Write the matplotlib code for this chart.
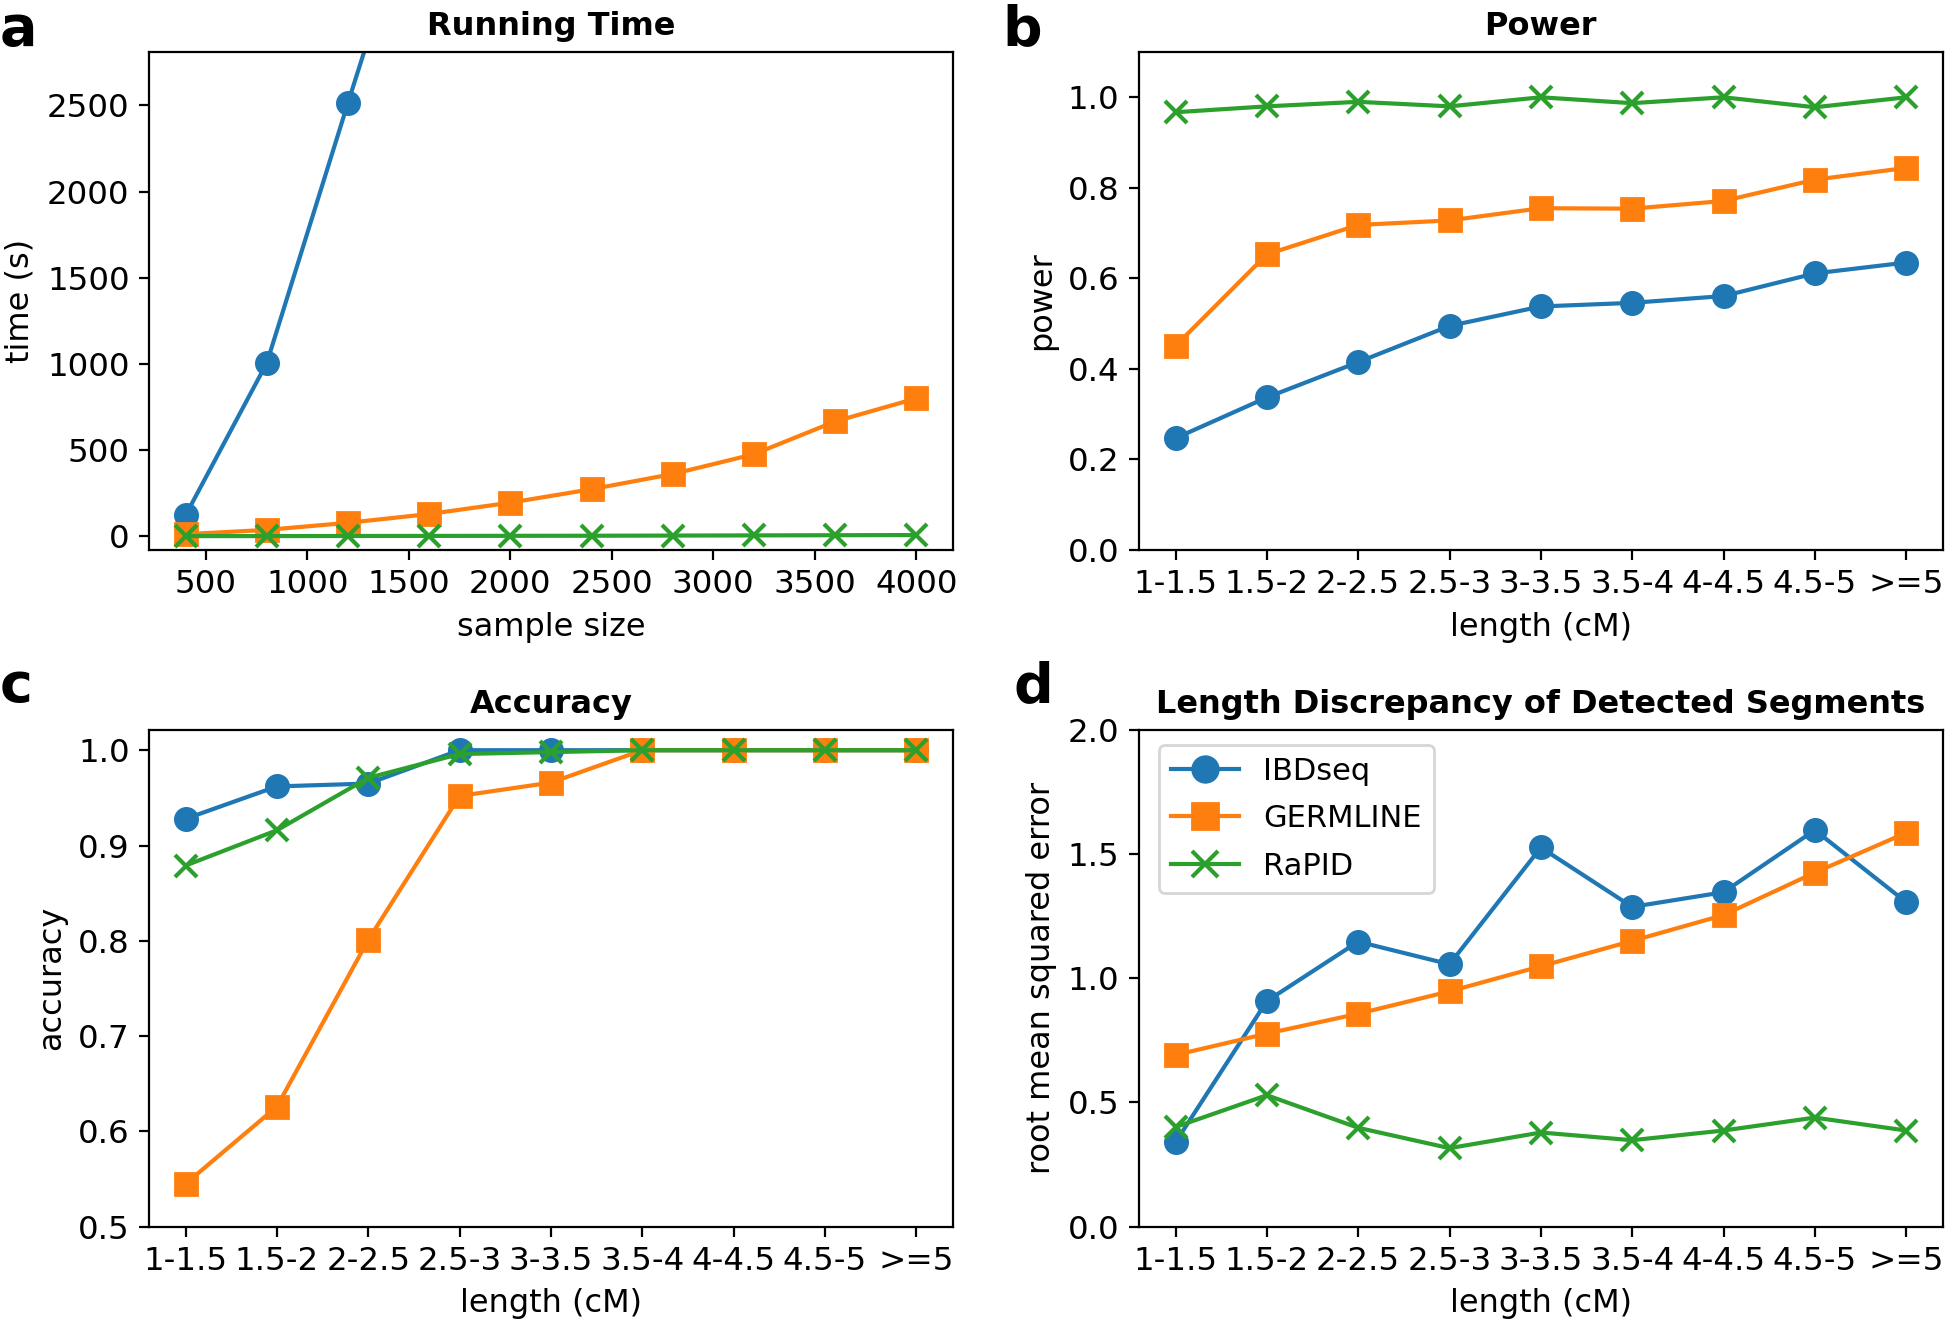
import matplotlib
matplotlib.use("Agg")
import matplotlib.pyplot as plt

# panel a: running time
sample_size = [400, 800, 1200, 1600, 2000, 2400, 2800, 3200, 3600, 4000]
time_ibdseq = [122, 1005, 2515, 4000]
time_germline = [12, 37, 78, 129, 195, 273, 361, 476, 666, 800]
time_rapid = [1, 1, 1.5, 2, 2.5, 3, 4, 5, 6, 7]

# length bins for panels b, c, d
bins = ["1-1.5", "1.5-2", "2-2.5", "2.5-3", "3-3.5", "3.5-4", "4-4.5", "4.5-5", ">=5"]

power_ibdseq = [0.247, 0.337, 0.415, 0.495, 0.538, 0.546, 0.561, 0.611, 0.635]
power_germline = [0.451, 0.653, 0.718, 0.728, 0.755, 0.754, 0.771, 0.818, 0.844]
power_rapid = [0.967, 0.980, 0.990, 0.980, 1.0, 0.987, 1.0, 0.978, 1.0]

acc_ibdseq = [0.928, 0.962, 0.965, 1.0, 1.0, 1.0, 1.0, 1.0, 1.0]
acc_germline = [0.545, 0.626, 0.801, 0.952, 0.966, 1.0, 1.0, 1.0, 1.0]
acc_rapid = [0.879, 0.916, 0.971, 0.996, 0.998, 1.0, 1.0, 1.0, 1.0]

rmse_ibdseq = [0.34, 0.908, 1.147, 1.056, 1.526, 1.287, 1.346, 1.596, 1.306]
rmse_germline = [0.691, 0.777, 0.857, 0.947, 1.048, 1.150, 1.254, 1.425, 1.585]
rmse_rapid = [0.401, 0.529, 0.398, 0.316, 0.379, 0.348, 0.387, 0.439, 0.387]

c_blue, c_orange, c_green = "#1f77b4", "#ff7f0e", "#2ca02c"

plt.rcParams["xtick.labelsize"] = 11.7
plt.rcParams["ytick.labelsize"] = 11.7
plt.rcParams["axes.labelsize"] = 11.5
plt.rcParams["axes.titlesize"] = 11.5

fig = plt.figure(figsize=(9.73, 6.635), dpi=200)
w, h = 0.413, 0.3753
ax_a = fig.add_axes([0.0766, 0.5855, w, h])
ax_b = fig.add_axes([0.5853, 0.5855, w, h])
ax_c = fig.add_axes([0.0766, 0.0756, w, 0.3745])
ax_d = fig.add_axes([0.5853, 0.0756, w, 0.3745])

ms = 8

ax_a.plot(sample_size[:len(time_ibdseq)], time_ibdseq, "o-", color=c_blue, ms=ms, label="IBDseq")
ax_a.plot(sample_size, time_germline, "s-", color=c_orange, ms=ms, label="GERMLINE")
ax_a.plot(sample_size, time_rapid, "x-", color=c_green, ms=ms, mew=1.5, label="RaPID")
ax_a.set_xlim(220, 4180)
ax_a.set_ylim(-80, 2810)
ax_a.set_xticks([500, 1000, 1500, 2000, 2500, 3000, 3500, 4000])
ax_a.set_xlabel("sample size")
ax_a.set_ylabel("time (s)")
ax_a.set_title("Running Time", fontweight="bold")

xs = range(len(bins))
for ax, yb, yo, yg in [(ax_b, power_ibdseq, power_germline, power_rapid),
                       (ax_c, acc_ibdseq, acc_germline, acc_rapid),
                       (ax_d, rmse_ibdseq, rmse_germline, rmse_rapid)]:
    ax.plot(xs, yb, "o-", color=c_blue, ms=ms, label="IBDseq")
    ax.plot(xs, yo, "s-", color=c_orange, ms=ms, label="GERMLINE")
    ax.plot(xs, yg, "x-", color=c_green, ms=ms, mew=1.5, label="RaPID")
    ax.set_xticks(list(xs))
    ax.set_xticklabels(bins)
    ax.set_xlabel("length (cM)")

ax_b.set_ylim(0, 1.1)
ax_b.set_ylabel("power")
ax_b.set_title("Power", fontweight="bold")

ax_c.set_ylim(0.5, 1.0215)
ax_c.set_ylabel("accuracy")
ax_c.set_title("Accuracy", fontweight="bold")

ax_d.set_ylim(0, 2.0)
ax_d.set_yticks([0, 0.5, 1.0, 1.5, 2.0])
ax_d.set_ylabel("root mean squared error")
ax_d.set_title("Length Discrepancy of Detected Segments", fontweight="bold")
ax_d.legend(loc="upper left", fontsize=11, handlelength=2.2, markerscale=1.15,
            labelspacing=0.6, bbox_to_anchor=(0.025, 0.97), borderaxespad=0)

for lab, x, y in [("a", 0.0, 0.966), ("b", 0.515, 0.966), ("c", 0.0, 0.471), ("d", 0.521, 0.471)]:
    fig.text(x, y, lab, fontsize=20, fontweight="bold", va="baseline")

fig.savefig("out.png", dpi=200)
